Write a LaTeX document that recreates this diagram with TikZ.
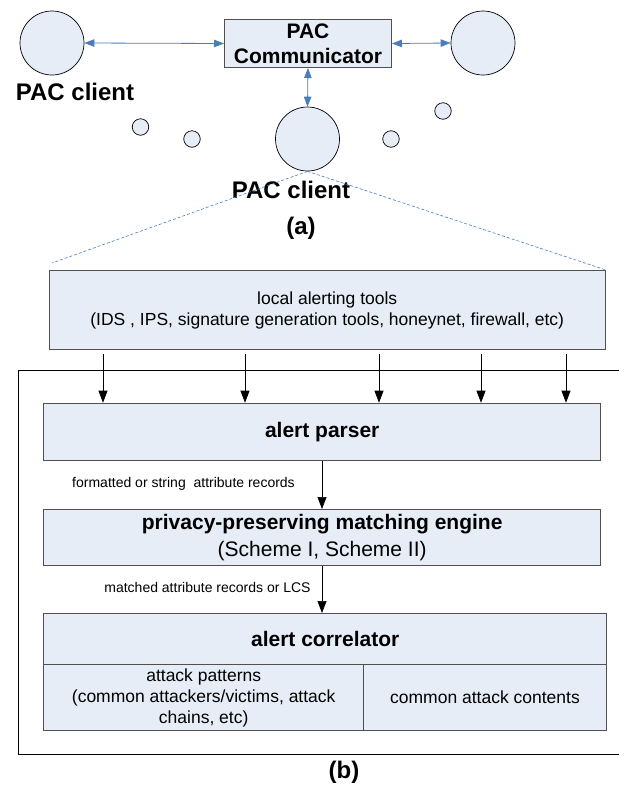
\documentclass[tikz,border=0pt]{standalone}
\usepackage{fontspec}
\setmainfont{Liberation Sans}
\usetikzlibrary{arrows.meta,calc}
\definecolor{boxfill}{RGB}{230,237,247}
\definecolor{boxline}{RGB}{80,80,80}
\definecolor{linkblue}{RGB}{74,126,187}
\begin{document}
\begin{tikzpicture}[x=1pt,y=-1pt,
  client/.style={circle, draw=black, fill=boxfill, line width=0.7pt, minimum size=64pt, inner sep=0pt},
  dot/.style={circle, draw=black, fill=boxfill, line width=0.7pt, minimum size=16.5pt, inner sep=0pt},
  box/.style={draw=boxline, fill=boxfill, line width=1pt, inner sep=0pt, anchor=north west, align=center},
  blink/.style={linkblue, line width=0.8pt, {Triangle[length=10pt,width=7.5pt]}-{Triangle[length=10pt,width=7.5pt]}},
  karr/.style={black, line width=0.7pt, -{Triangle[length=12pt,width=9pt]}},
  zoomline/.style={linkblue, line width=0.6pt, dash pattern=on 3pt off 2pt},
  bigbold/.style={font=\fontsize{24}{28}\selectfont\bfseries},
  midbold/.style={font=\fontsize{21}{25}\selectfont\bfseries},
  plain/.style={font=\fontsize{17.5}{21}\selectfont},
  small/.style={font=\fontsize{14}{17}\selectfont}
]
\useasboundingbox (0,0) rectangle (619,785);

% ---- part (a)
\node[client] (c1) at (52,43) {};
\node[client] (c3) at (483,43) {};
\node[client] (c2) at (307.5,139) {};
\node[dot] (d1) at (140.5,127) {};
\node[dot] (d2) at (192,139) {};
\node[dot] (d3) at (391,139) {};
\node[dot] (d4) at (443,111) {};
\node[box, minimum width=167pt, minimum height=48pt, midbold] (pac) at (224,19) {PAC\\Communicator};

\draw[blink] (c1.east) -- (pac.west);
\draw[blink] (pac.east) -- (c3.west);
\draw[blink] (pac.south) -- (c2.north);

\node[bigbold] (lab1) at (75,92) {PAC client};
\node[bigbold] (lab2) at (291,190) {PAC client};
\node[bigbold] (lab3) at (301,228) {(a)};

% ---- part (b)
\node[box, minimum width=556.5pt, minimum height=79.3pt, plain] (local) at (48.5,270)
  {local alerting tools\\(IDS , IPS, signature generation tools, honeynet, firewall, etc)};
\coordinate (zl) at (52,263);
\draw[zoomline] (c2.south) -- (zl);
\draw[zoomline] (c2.south) -- (local.north east);

\coordinate (fr1) at (619,370.7);
\coordinate (fr2) at (18.5,370.7);
\coordinate (fr3) at (18.5,754);
\coordinate (fr4) at (619,754);
\draw[black, line width=0.8pt] (fr1) -- (fr2) -- (fr3) -- (fr4);

\node[box, minimum width=556.6pt, minimum height=57.3pt, midbold] (parser) at (43.4,402.7) {alert parser};

\foreach \i/\x in {1/103,2/245,3/379,4/481,5/566}{
  \coordinate (ax\i) at (\x,0);
  \draw[karr, shorten <=4pt] (local.south -| ax\i) -- (parser.north -| ax\i);
}

\node[box, minimum width=556.6pt, minimum height=56pt,
      font=\fontsize{21}{27}\selectfont] (ppme) at (43.4,509)
  {\textbf{privacy-preserving matching engine}\\(Scheme I, Scheme II)};
\coordinate (ac) at (322,0);
\draw[karr] (parser.south -| ac) -- (ppme.north -| ac);
\node[small] (l1) at (183.5,484.3) {formatted or string\ \ attribute records};

\node[box, minimum width=562.6pt, minimum height=51pt, midbold] (corr) at (43.4,613) {alert correlator};
\draw[karr] (ppme.south -| ac) -- (corr.north -| ac);
\node[small] (l2) at (207.5,587) {matched attribute records or LCS};

\node[box, minimum width=319.6pt, minimum height=66pt, plain] (pat) at (43.4,664)
  {attack patterns\\(common attackers/victims, attack\\chains, etc)};
\node[box, minimum width=243pt, minimum height=66pt, plain] (cont) at (363,664)
  {common attack contents};

\node[bigbold] (lab4) at (344,772) {(b)};
\end{tikzpicture}
\end{document}
